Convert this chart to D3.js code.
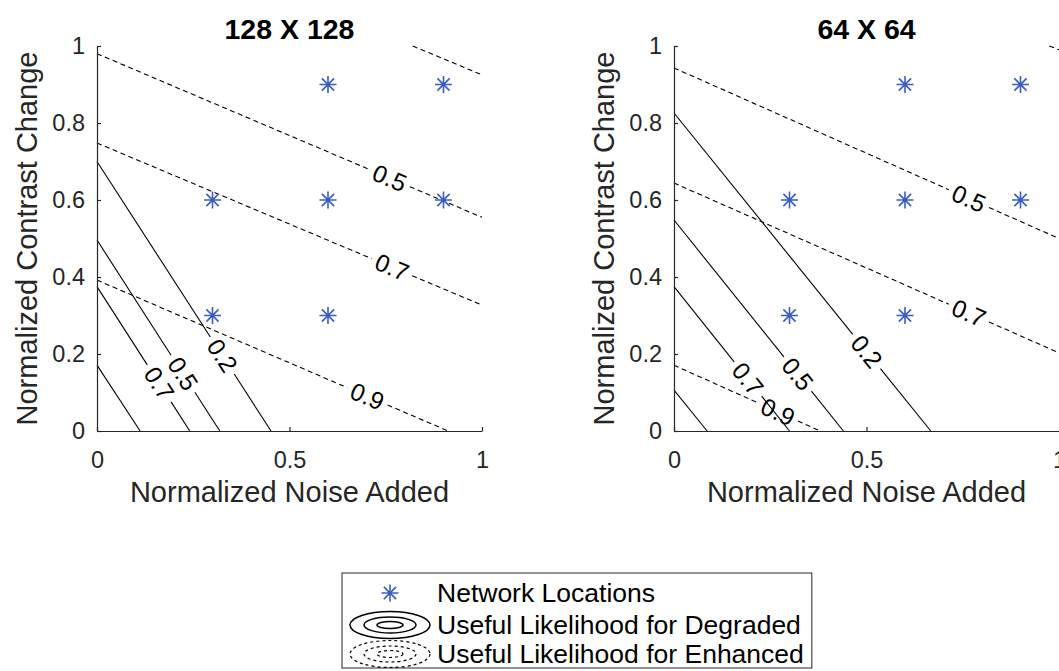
<!DOCTYPE html>
<html>
<head>
<meta charset="utf-8">
<script src="https://cdn.jsdelivr.net/npm/d3@7"></script>
<style>
  html, body { margin: 0; padding: 0; background: #fff; }
  svg { display: block; font-family: "Liberation Sans", Arial, Helvetica, sans-serif; }
</style>
</head>
<body>
<svg id="chart" width="1059" height="671"></svg>
<script>
'use strict';

// panel titles
const panelTitles = ['128 X 128', '64 X 64'];

// network locations (same for both panels)
const netNoise = [0.3, 0.6, 0.3, 0.6, 0.9, 0.6, 0.9];
const netContrast = [0.3, 0.3, 0.6, 0.6, 0.6, 0.9, 0.9];

// contour lines: [level, start (noise, contrast), end (noise, contrast), label position along line or null]
const enhanced128 = [
  [0.3, [0.82, 1], [1, 0.925], null],
  [0.5, [0, 0.98], [1, 0.555], 0.76],
  [0.7, [0, 0.748], [1, 0.327], 0.766],
  [0.9, [0, 0.392], [0.912, 0], 0.77]
];
const degraded128 = [
  [0.2, [0, 0.70], [0.452, 0], 0.72],
  [0.5, [0, 0.496], [0.319, 0], 0.70],
  [0.7, [0, 0.375], [0.241, 0], 0.67],
  [0.9, [0, 0.171], [0.112, 0], null]
];
const enhanced64 = [
  [0.3, [0.975, 1], [1, 0.99], null],
  [0.5, [0, 0.943], [1, 0.50], 0.766],
  [0.7, [0, 0.644], [1, 0.203], 0.766],
  [0.9, [0, 0.171], [0.38, 0], 0.71]
];
const degraded64 = [
  [0.2, [0, 0.826], [0.667, 0], 0.75],
  [0.5, [0, 0.548], [0.44, 0], 0.73],
  [0.7, [0, 0.375], [0.30, 0], 0.64],
  [0.9, [0, 0.106], [0.086, 0], null]
];

const xTicks = [0, 0.5, 1];
const yTicks = [0, 0.2, 0.4, 0.6, 0.8, 1];
const xLabel = 'Normalized Noise Added';
const yLabel = 'Normalized Contrast Change';
const legendItems = ['Network Locations', 'Useful Likelihood for Degraded', 'Useful Likelihood for Enhanced'];

(function () {
  const svg = d3.select('#chart');
  const axisColor = '#262626';
  const starColor = '#3a5cc7';

  const panels = [
    { title: panelTitles[0], left: 97, enhanced: enhanced128, degraded: degraded128 },
    { title: panelTitles[1], left: 674, enhanced: enhanced64, degraded: degraded64 }
  ];
  const plotTop = 46, size = 385;

  function starPath(r) {
    const d = r * 0.72;
    return `M${-r},0H${r}M0,${-r}V${r}M${-d},${-d}L${d},${d}M${-d},${d}L${d},${-d}`;
  }

  panels.forEach((p) => {
    const x = d3.scaleLinear().domain([0, 1]).range([p.left, p.left + size]);
    const y = d3.scaleLinear().domain([0, 1]).range([plotTop + size, plotTop]);
    const g = svg.append('g');

    // contour lines, split around their labels
    function drawContours(lines, dash) {
      lines.forEach(([level, a, b, t]) => {
        const x0 = x(a[0]), y0 = y(a[1]), x1 = x(b[0]), y1 = y(b[1]);
        const len = Math.hypot(x1 - x0, y1 - y0);
        const ux = (x1 - x0) / len, uy = (y1 - y0) / len;
        const segs = [];
        if (t === null) {
          segs.push([0, len]);
        } else {
          const c = t * len, gap = 22;
          segs.push([0, c - gap], [c + gap, len]);
        }
        segs.forEach(([s, e]) => {
          g.append('line')
            .attr('x1', x0 + ux * s).attr('y1', y0 + uy * s)
            .attr('x2', x0 + ux * e).attr('y2', y0 + uy * e)
            .attr('stroke', '#000')
            .attr('stroke-width', 1.1)
            .attr('stroke-dasharray', dash);
        });
        if (t !== null) {
          const cx = x0 + ux * t * len, cy = y0 + uy * t * len;
          const ang = Math.atan2(uy, ux) * 180 / Math.PI;
          g.append('text')
            .attr('transform', `translate(${cx},${cy}) rotate(${ang})`)
            .attr('text-anchor', 'middle')
            .attr('dy', '0.35em')
            .attr('font-size', 24.5)
            .attr('fill', '#000')
            .text(level);
        }
      });
    }
    drawContours(p.enhanced, '5,3.5');
    drawContours(p.degraded, null);

    // network locations
    g.append('g')
      .selectAll('path')
      .data(d3.range(netNoise.length))
      .join('path')
      .attr('transform', (i) => `translate(${x(netNoise[i])},${y(netContrast[i])})`)
      .attr('d', starPath(8.5))
      .attr('stroke', starColor)
      .attr('stroke-width', 1.6)
      .attr('fill', 'none');

    // axes
    const xAxis = g.append('g')
      .attr('transform', `translate(0,${plotTop + size})`)
      .call(d3.axisBottom(x).tickValues(xTicks).tickFormat(d3.format('~g'))
        .tickSizeInner(-4).tickSizeOuter(0).tickPadding(20));
    const yAxis = g.append('g')
      .attr('transform', `translate(${p.left},0)`)
      .call(d3.axisLeft(y).tickValues(yTicks).tickFormat(d3.format('~g'))
        .tickSizeInner(-4).tickSizeOuter(0).tickPadding(12));
    [xAxis, yAxis].forEach((ax) => {
      ax.attr('font-family', null).attr('font-size', 23.5);
      ax.selectAll('path, line').attr('stroke', axisColor).attr('stroke-width', 1.2);
      ax.selectAll('text').attr('fill', axisColor);
    });

    g.append('text')
      .attr('x', p.left + size / 2).attr('y', 39)
      .attr('text-anchor', 'middle')
      .attr('font-size', 28.5).attr('font-weight', 'bold').attr('fill', '#000')
      .text(p.title);

    g.append('text')
      .attr('x', p.left + size / 2).attr('y', 502)
      .attr('text-anchor', 'middle')
      .attr('font-size', 29).attr('fill', axisColor)
      .text(xLabel);

    g.append('text')
      .attr('transform', `translate(${p.left - 60},${plotTop + size / 2}) rotate(-90)`)
      .attr('text-anchor', 'middle')
      .attr('font-size', 29).attr('fill', axisColor)
      .text(yLabel);
  });

  // legend
  const leg = svg.append('g');
  const legBox = leg.append('rect')
    .attr('x', 342).attr('y', 573).attr('height', 95)
    .attr('fill', '#fff').attr('stroke', axisColor).attr('stroke-width', 1);
  const rowY = [593, 625, 654];
  const iconX = 390;

  leg.append('path')
    .attr('transform', `translate(${iconX},${rowY[0]})`)
    .attr('d', starPath(8.5))
    .attr('stroke', starColor).attr('stroke-width', 1.6).attr('fill', 'none');

  [[40, 13.5], [26, 8], [13, 3.5]].forEach(([rx, ry]) => {
    leg.append('ellipse')
      .attr('cx', iconX).attr('cy', rowY[1]).attr('rx', rx).attr('ry', ry)
      .attr('fill', 'none').attr('stroke', '#000').attr('stroke-width', 1.5);
    leg.append('ellipse')
      .attr('cx', iconX).attr('cy', rowY[2]).attr('rx', rx).attr('ry', ry)
      .attr('fill', 'none').attr('stroke', '#000').attr('stroke-width', 1.2)
      .attr('stroke-dasharray', '3,3');
  });

  let maxW = 0;
  legendItems.forEach((label, i) => {
    const t = leg.append('text')
      .attr('x', 437).attr('y', rowY[i]).attr('dy', '0.35em')
      .attr('font-size', 26.5).attr('fill', '#000')
      .text(label);
    maxW = Math.max(maxW, t.node().getComputedTextLength());
  });
  legBox.attr('width', 437 - 342 + maxW + 8);
})();
</script>
</body>
</html>
